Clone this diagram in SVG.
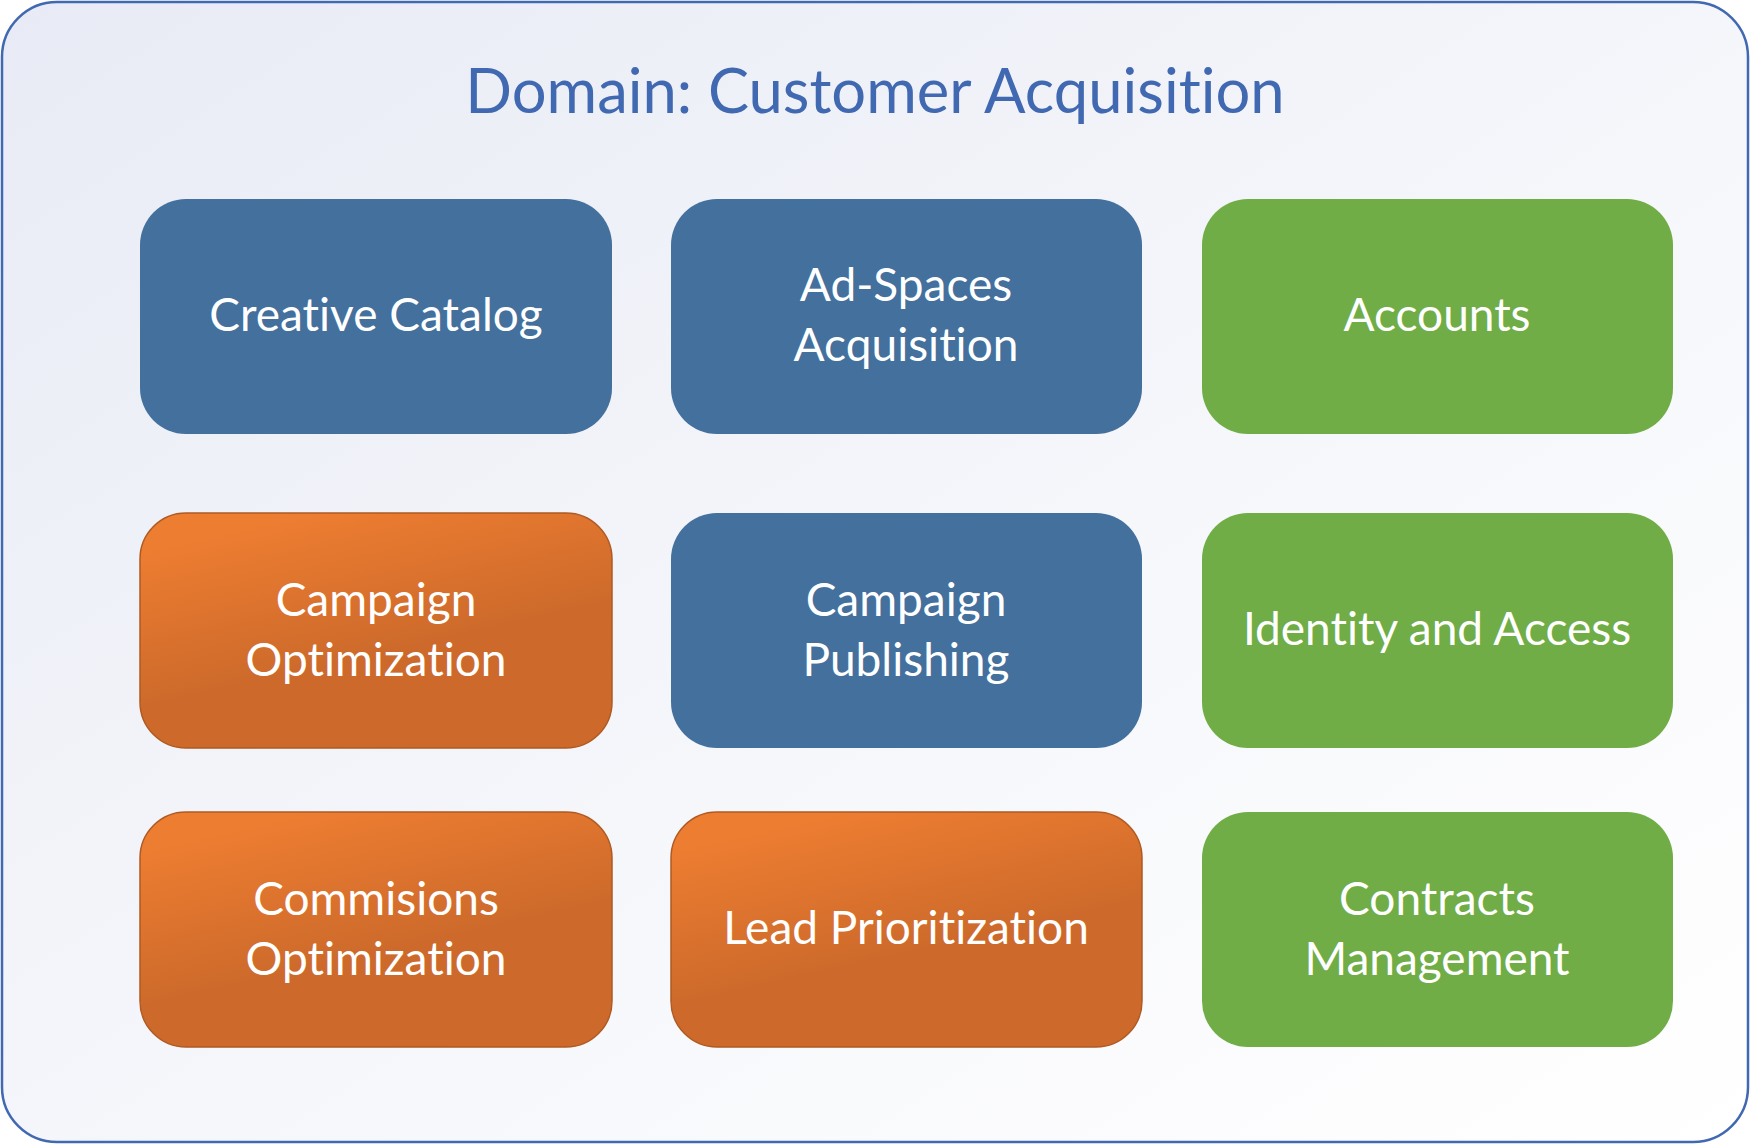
<svg xmlns="http://www.w3.org/2000/svg" width="1750" height="1144" viewBox="0 0 1750 1144">
<style>
.t{font-family:Lato,"Open Sans","Liberation Sans",sans-serif;fill:#fff;font-size:46px;text-anchor:middle;font-variant-ligatures:none}
.title{font-family:Lato,"Open Sans","Liberation Sans",sans-serif;fill:#4169B2;font-size:61.5px;text-anchor:middle;font-variant-ligatures:none}
.blue{fill:#43709D}
.green{fill:#70AD47}
.orange{fill:url(#og);stroke:#AF5A22;stroke-width:1.5}
</style>
<defs>
<linearGradient id="bg" x1="0" y1="0" x2="1" y2="1">
<stop offset="0" stop-color="#E8EBF5"/>
<stop offset="0.55" stop-color="#F6F7FB"/>
<stop offset="1" stop-color="#FFFFFF"/>
</linearGradient>
<linearGradient id="og" x1="0.25" y1="0.05" x2="0.5" y2="0.6">
<stop offset="0" stop-color="#ED7D31"/>
<stop offset="1" stop-color="#CD6A2B"/>
</linearGradient>
</defs>
<rect x="2" y="2" width="1746" height="1140" rx="55" fill="url(#bg)" stroke="#4169B2" stroke-width="2.5"/>
<text class="title" x="875" y="113">Domain: Customer Acquisition</text>
<g id="creative-catalog"><rect class="blue" x="140" y="199" width="472" height="235" rx="46"/><text class="t" x="376" y="331">Creative Catalog</text></g>
<g id="ad-spaces-acquisition"><rect class="blue" x="671" y="199" width="471" height="235" rx="46"/><text class="t" x="906" y="301">Ad-Spaces</text><text class="t" x="906" y="361">Acquisition</text></g>
<g id="accounts"><rect class="green" x="1202" y="199" width="471" height="235" rx="46"/><text class="t" x="1437" y="331">Accounts</text></g>
<g id="campaign-optimization"><rect class="orange" x="140" y="513" width="472" height="235" rx="46"/><text class="t" x="376" y="616">Campaign</text><text class="t" x="376" y="676">Optimization</text></g>
<g id="campaign-publishing"><rect class="blue" x="671" y="513" width="471" height="235" rx="46"/><text class="t" x="906" y="616">Campaign</text><text class="t" x="906" y="676">Publishing</text></g>
<g id="identity-and-access"><rect class="green" x="1202" y="513" width="471" height="235" rx="46"/><text class="t" x="1437" y="645">Identity and Access</text></g>
<g id="commisions-optimization"><rect class="orange" x="140" y="812" width="472" height="235" rx="46"/><text class="t" x="376" y="915">Commisions</text><text class="t" x="376" y="975">Optimization</text></g>
<g id="lead-prioritization"><rect class="orange" x="671" y="812" width="471" height="235" rx="46"/><text class="t" x="906" y="944">Lead Prioritization</text></g>
<g id="contracts-management"><rect class="green" x="1202" y="812" width="471" height="235" rx="46"/><text class="t" x="1437" y="915">Contracts</text><text class="t" x="1437" y="975">Management</text></g>
<g id="connectors"></g>
</svg>
